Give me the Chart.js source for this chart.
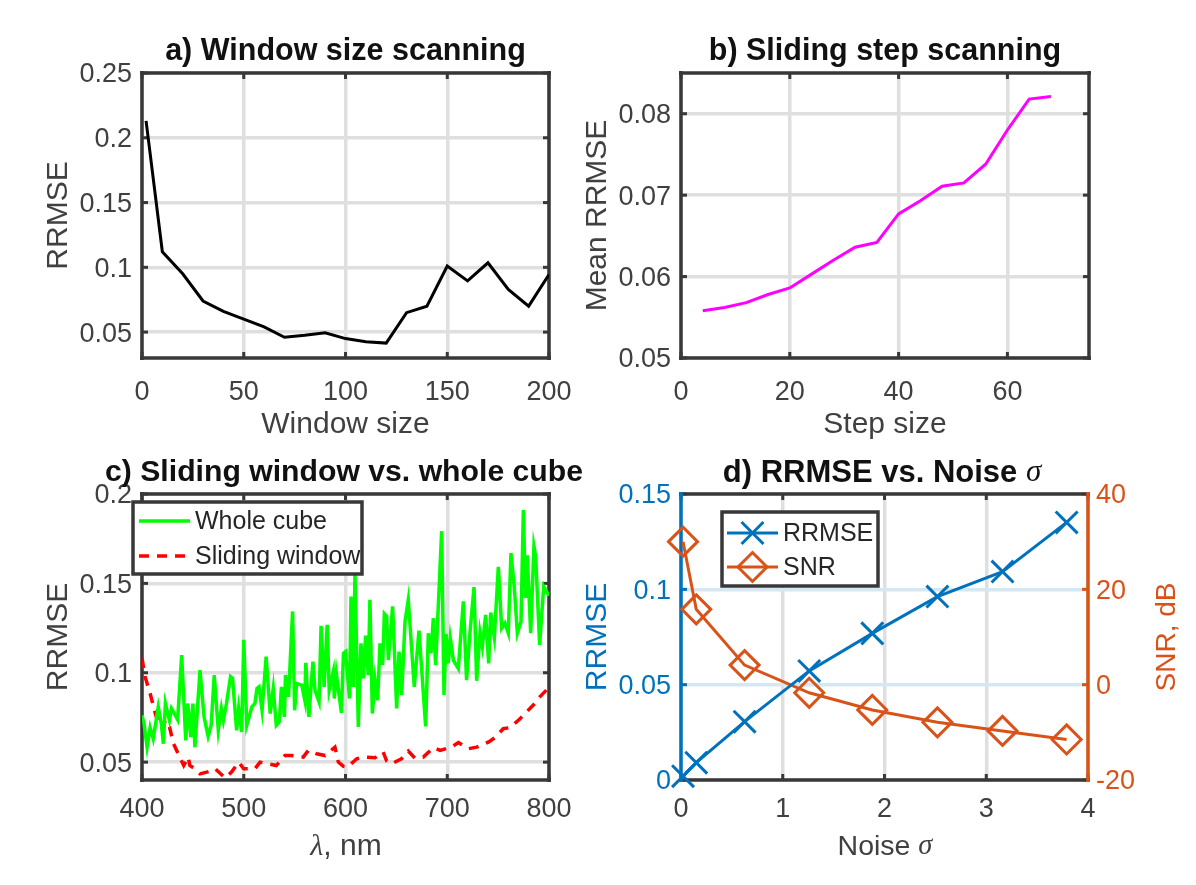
<!DOCTYPE html>
<html>
<head>
<meta charset="utf-8">
<title>RRMSE scans</title>
<script src="https://cdn.jsdelivr.net/npm/chart.js@4/dist/chart.umd.js"></script>
<style>
  html, body { margin: 0; padding: 0; background: #fff; }
  #wrap { position: relative; width: 1196px; height: 885px; overflow: hidden; }
  canvas { position: absolute; }
</style>
</head>
<body>
<div id="wrap">
  <canvas id="panelA" width="590" height="445" style="left:0;top:0"></canvas>
  <canvas id="panelB" width="636" height="445" style="left:560px;top:0"></canvas>
  <canvas id="panelC" width="590" height="440" style="left:0;top:445px"></canvas>
  <canvas id="panelD" width="636" height="440" style="left:560px;top:445px"></canvas>
</div>
<script>
// a) window size scan
var windowSizes = [2, 10, 20, 30, 40, 50, 60, 70, 80, 90, 100, 110, 120, 130, 140, 150, 160, 170, 180, 190, 200];
var windowRrmse = [0.213, 0.112, 0.095, 0.074, 0.066, 0.060, 0.054, 0.046, 0.0475, 0.0495, 0.045, 0.0425, 0.0415, 0.065, 0.070, 0.101, 0.0895, 0.1035, 0.083, 0.070, 0.0945];
var windowXTicks = [0, 50, 100, 150, 200];
var windowYTicks = [0.05, 0.1, 0.15, 0.2, 0.25];

// b) sliding step scan
var stepSizes = [4, 8, 12, 16, 20, 24, 28, 32, 36, 40, 44, 48, 52, 56, 60, 64, 68];
var stepRrmse = [0.0558, 0.0562, 0.0568, 0.0578, 0.0586, 0.0603, 0.0620, 0.0636, 0.0642, 0.0677, 0.0693, 0.0711, 0.0715, 0.0738, 0.0780, 0.0818, 0.0821];
var stepXTicks = [0, 20, 40, 60];
var stepYTicks = [0.05, 0.06, 0.07, 0.08];

// c) whole cube against sliding window
var wholeNm = [400, 402, 405, 408, 411, 416, 419, 421, 423, 427, 429, 435, 439, 443, 445, 448, 450, 452, 457, 461, 465, 468, 471, 475, 478, 480, 483, 487, 489, 493, 495, 498, 500, 503, 508, 511, 513, 515, 518, 522, 526, 529, 532, 535, 537, 540, 541, 544, 548, 550, 552, 557, 560, 561, 564, 568, 570, 574, 576, 579, 582, 584, 588, 589, 591, 596, 598, 600, 604, 605.4, 607.7, 609.3, 612.6, 615.2, 617.5, 619.8, 622.4, 624, 626.4, 629, 631.6, 633.9, 636.5, 638.2, 640.5, 642.1, 646.3, 650.3, 652.6, 655.2, 658.5, 661.7, 667.6, 672.2, 678.8, 681.4, 684, 686.3, 688.6, 694.5, 696.8, 698.8, 701, 703, 706, 710.9, 715.8, 719, 722.4, 726.3, 728.9, 732.2, 734.5, 737.7, 740.7, 742.7, 746.3, 750.2, 753.5, 756.7, 760, 762.6, 765.9, 768.9, 772.5, 774.8, 777, 778.7, 782, 785.2, 786.9, 790.8, 794.8, 800];
var wholeRrmse = [0.0762, 0.0715, 0.0584, 0.0693, 0.0631, 0.0809, 0.0715, 0.0603, 0.0828, 0.0734, 0.0800, 0.0738, 0.1099, 0.0622, 0.0828, 0.0640, 0.0828, 0.0584, 0.1015, 0.0753, 0.0644, 0.0706, 0.0987, 0.0678, 0.0800, 0.0734, 0.0828, 0.0978, 0.0968, 0.0678, 0.0800, 0.0669, 0.1184, 0.0706, 0.0809, 0.0828, 0.0912, 0.0921, 0.0790, 0.1090, 0.0772, 0.0912, 0.0706, 0.0725, 0.0921, 0.0753, 0.0987, 0.0865, 0.1343, 0.0790, 0.0940, 0.0931, 0.0846, 0.1056, 0.0753, 0.1062, 0.0903, 0.0837, 0.1262, 0.0921, 0.1268, 0.0903, 0.1006, 0.0856, 0.0996, 0.0775, 0.1109, 0.1118, 0.0856, 0.1427, 0.0921, 0.1558, 0.0697, 0.1165, 0.0968, 0.1208, 0.0987, 0.1408, 0.0772, 0.0959, 0.0846, 0.1165, 0.1043, 0.1330, 0.1315, 0.1071, 0.1371, 0.0800, 0.1118, 0.0875, 0.1287, 0.1408, 0.0921, 0.1236, 0.0700, 0.1221, 0.1109, 0.1305, 0.1043, 0.1792, 0.0875, 0.1217, 0.1052, 0.1193, 0.1071, 0.1024, 0.1399, 0.0959, 0.1230, 0.1479, 0.0955, 0.1225, 0.1146, 0.1324, 0.1052, 0.1337, 0.1197, 0.1592, 0.1249, 0.1277, 0.1221, 0.1670, 0.1479, 0.1221, 0.1287, 0.1910, 0.1418, 0.1657, 0.1221, 0.1708, 0.1652, 0.1155, 0.1483, 0.1431];
var slidingNm = [400, 403, 408, 414, 416, 420, 423, 427, 431, 437, 441, 445.5, 447, 452, 457, 467, 472, 481.5, 488, 495, 500, 511, 516, 524, 532, 540.5, 547, 558.5, 563.5, 571.6, 580, 589.6, 593, 598, 602, 611, 617.5, 629, 637, 640.5, 645.4, 655, 661.7, 668.3, 676.5, 686.3, 693, 704, 711, 720.7, 729, 740.4, 747, 755, 761.7, 771.5, 778, 786, 791, 800];
var slidingRrmse = [0.1081, 0.0978, 0.0884, 0.0753, 0.0734, 0.0687, 0.0734, 0.0697, 0.0603, 0.0528, 0.0481, 0.0528, 0.0481, 0.0463, 0.0434, 0.0449, 0.0463, 0.0412, 0.0444, 0.0500, 0.0463, 0.0463, 0.0500, 0.0491, 0.0481, 0.0537, 0.0537, 0.0528, 0.0566, 0.0547, 0.0537, 0.0584, 0.0500, 0.0476, 0.0472, 0.0519, 0.0528, 0.0524, 0.0556, 0.0506, 0.0491, 0.0519, 0.0562, 0.0522, 0.0528, 0.0581, 0.0566, 0.0584, 0.0609, 0.0575, 0.0584, 0.0612, 0.0637, 0.0687, 0.0693, 0.0743, 0.0781, 0.0828, 0.0865, 0.0918];
var spectrumXTicks = [400, 500, 600, 700, 800];
var spectrumYTicks = [0.05, 0.1, 0.15, 0.2];

// d) noise scan
var noiseSigma = [0.02, 0.15, 0.625, 1.26, 1.88, 2.52, 3.16, 3.79];
var noiseRrmse = [0.002, 0.0091, 0.0306, 0.0572, 0.0769, 0.0962, 0.1093, 0.1351];
var noiseSnr = [30, 15.8, 4.1, -1.7, -5.3, -7.9, -9.7, -11.5];
var noiseXTicks = [0, 1, 2, 3, 4];
var noiseYTicks = [0, 0.05, 0.1, 0.15];
var snrTicks = [-20, 0, 20, 40];

var SANS = '"Liberation Sans", Arial, sans-serif';
var SERIF = '"Liberation Serif", "Times New Roman", serif';
var TICK_COLOR = '#404040';
var FRAME_COLOR = '#383838';
var GRID_COLOR = '#dfdfdf';
var BLUE = '#0072BD';
var ORANGE = '#D95319';
var TICK_SIZE = 27;
var LABEL_SIZE = 30;
var TITLE_SIZE = 30.5;

function toPoints(xs, ys) {
    return xs.map(function (x, i) { return { x: x, y: ys[i] }; });
}

// draws the axes box and the inward tick marks, MATLAB style
var framePlugin = {
    id: 'frame',
    beforeDatasetsDraw: function (chart, args, opts) {
        var c = chart.ctx, a = chart.chartArea;
        var left = opts.left || FRAME_COLOR, right = opts.right || FRAME_COLOR;
        function seg(x1, y1, x2, y2, color, w) {
            c.strokeStyle = color;
            c.lineWidth = w;
            c.beginPath();
            c.moveTo(x1, y1);
            c.lineTo(x2, y2);
            c.stroke();
        }
        c.save();
        chart.scales.x.ticks.forEach(function (t) {
            var px = chart.scales.x.getPixelForValue(t.value);
            seg(px, a.bottom, px, a.bottom - 6, FRAME_COLOR, 3);
            seg(px, a.top, px, a.top + 6, FRAME_COLOR, 3);
        });
        chart.scales.y.ticks.forEach(function (t) {
            var py = chart.scales.y.getPixelForValue(t.value);
            seg(a.left, py, a.left + 6, py, left, 3);
            if (!chart.scales.y1) seg(a.right, py, a.right - 6, py, right, 3);
        });
        if (chart.scales.y1) {
            chart.scales.y1.ticks.forEach(function (t) {
                var py = chart.scales.y1.getPixelForValue(t.value);
                seg(a.right, py, a.right - 6, py, right, 3);
            });
        }
        seg(a.left - 2, a.top, a.right + 2, a.top, FRAME_COLOR, 3.5);
        seg(a.left - 2, a.bottom, a.right + 2, a.bottom, FRAME_COLOR, 3.5);
        seg(a.left, a.top - 2, a.left, a.bottom + 2, left, 3.5);
        seg(a.right, a.top - 2, a.right, a.bottom + 2, right, 3.5);
        c.restore();
    }
};

// boxed legend sitting at a fixed place, as in the figure
var boxLegendPlugin = {
    id: 'boxLegend',
    afterDatasetsDraw: function (chart, args, opts) {
        if (!opts.box) return;
        var c = chart.ctx, b = opts.box;
        c.save();
        c.fillStyle = '#fff';
        c.fillRect(b.x, b.y, b.w, b.h);
        c.strokeStyle = FRAME_COLOR;
        c.lineWidth = 3.5;
        c.strokeRect(b.x, b.y, b.w, b.h);
        chart.data.datasets.forEach(function (ds, i) {
            var y = opts.rows[i];
            c.strokeStyle = ds.borderColor;
            c.lineWidth = ds.borderWidth;
            c.setLineDash(ds.borderDash || []);
            c.beginPath();
            c.moveTo(opts.lineX[0], y);
            c.lineTo(opts.lineX[1], y);
            c.stroke();
            c.setLineDash([]);
            if (ds.pointStyle) {
                c.fillStyle = 'rgba(0,0,0,0)';
                c.lineWidth = ds.pointBorderWidth;
                Chart.helpers.drawPoint(c, {
                    pointStyle: ds.pointStyle,
                    rotation: 0,
                    radius: ds.pointRadius,
                    borderWidth: ds.pointBorderWidth
                }, (opts.lineX[0] + opts.lineX[1]) / 2, y);
            }
            c.fillStyle = '#262626';
            c.font = opts.font + ' ' + SANS;
            c.textBaseline = 'middle';
            c.textAlign = 'left';
            c.fillText(ds.label, opts.textX, y + 1);
        });
        c.restore();
    }
};

// text with a Greek letter in another face, or rotated the other way
var richTextPlugin = {
    id: 'richText',
    afterDraw: function (chart, args, opts) {
        if (!opts.items) return;
        var c = chart.ctx;
        opts.items.forEach(function (item) {
            var total = 0;
            item.runs.forEach(function (r) {
                c.font = r[1];
                total += c.measureText(r[0]).width;
            });
            c.save();
            c.translate(item.x, item.y);
            if (item.rot) c.rotate(item.rot);
            c.textBaseline = 'middle';
            c.textAlign = 'left';
            var x = -total / 2;
            item.runs.forEach(function (r) {
                c.font = r[1];
                c.fillStyle = item.color;
                c.fillText(r[0], x, 0);
                x += c.measureText(r[0]).width;
            });
            c.restore();
        });
    }
};

Chart.register(framePlugin, boxLegendPlugin, richTextPlugin);

function tickOptions(color, padding, yOffset) {
    return {
        color: color,
        font: { family: SANS, size: TICK_SIZE },
        autoSkip: false,
        maxRotation: 0,
        padding: padding,
        labelOffset: yOffset,
        callback: function (v) { return String(v); }
    };
}

function axis(position, min, max, tickValues, size, extra) {
    var o = {
        type: 'linear',
        position: position,
        min: min,
        max: max,
        border: { display: false },
        grid: { color: GRID_COLOR, lineWidth: 3.5, drawTicks: false },
        ticks: position === 'bottom' ? tickOptions(TICK_COLOR, 13, 0) : tickOptions(TICK_COLOR, 10, 2),
        afterBuildTicks: function (scale) {
            scale.ticks = tickValues.map(function (v) { return { value: v }; });
        },
        afterFit: function (scale) {
            if (position === 'bottom') scale.height = size; else scale.width = size;
        }
    };
    return Object.assign(o, extra || {});
}

function axisTitle(text, pad, color) {
    return {
        display: true,
        text: text,
        color: color || TICK_COLOR,
        font: { family: SANS, size: LABEL_SIZE },
        padding: { top: pad, bottom: pad }
    };
}

function chartTitle(text, top, bottom) {
    return {
        display: true,
        text: text,
        color: '#111',
        fullSize: false,
        font: { family: SANS, size: TITLE_SIZE, weight: 'bold' },
        padding: { top: top, bottom: bottom }
    };
}

function baseOptions(scales, plugins, padding) {
    return {
        responsive: false,
        animation: false,
        layout: { padding: padding },
        scales: scales,
        elements: { point: { radius: 0 } },
        plugins: Object.assign({ legend: { display: false }, tooltip: { enabled: false } }, plugins)
    };
}

new Chart(document.getElementById('panelA').getContext('2d'), {
    type: 'line',
    data: { datasets: [{ label: 'RRMSE', data: toPoints(windowSizes, windowRrmse), borderColor: '#000', borderWidth: 3 }] },
    options: baseOptions({
        x: axis('bottom', 0, 200, windowXTicks, 87, { ticks: tickOptions(TICK_COLOR, 18, 0), title: axisTitle('Window size', 2) }),
        y: axis('left', 0.03, 0.25, windowYTicks, 142, { title: axisTitle('RRMSE', 41) })
    }, { title: chartTitle('a) Window size scanning', 33, 3.4) }, { right: 41 })
});

new Chart(document.getElementById('panelB').getContext('2d'), {
    type: 'line',
    data: { datasets: [{ label: 'Mean RRMSE', data: toPoints(stepSizes, stepRrmse), borderColor: '#FF00FF', borderWidth: 3 }] },
    options: baseOptions({
        x: axis('bottom', 0, 75, stepXTicks, 87, { ticks: tickOptions(TICK_COLOR, 18, 0), title: axisTitle('Step size', 2) }),
        y: axis('left', 0.05, 0.085, stepYTicks, 121, { title: axisTitle('Mean RRMSE', 20) })
    }, { title: chartTitle('b) Sliding step scanning', 33, 3.4) }, { right: 107 })
});

new Chart(document.getElementById('panelC').getContext('2d'), {
    type: 'line',
    data: {
        datasets: [
            { label: 'Whole cube', data: toPoints(wholeNm, wholeRrmse), borderColor: '#00FF00', borderWidth: 3.5 },
            { label: 'Sliding window', data: toPoints(slidingNm, slidingRrmse), borderColor: '#FF0000', borderWidth: 3.5, borderDash: [10, 8] }
        ]
    },
    options: baseOptions({
        x: axis('bottom', 400, 800, spectrumXTicks, 105),
        y: axis('left', 0.04, 0.2, spectrumYTicks, 142, { title: axisTitle('RRMSE', 41) })
    }, {
        boxLegend: {
            box: { x: 133, y: 57, w: 229, h: 72 },
            rows: [76, 111],
            lineX: [139, 190],
            textX: 195,
            font: '25px'
        },
        richText: {
            items: [
                {
                    x: 344, y: 28, color: '#111',
                    runs: [['c) Sliding window vs. whole cube', 'bold 30.2px ' + SANS]]
                },
                {
                    x: 346, y: 402, color: TICK_COLOR,
                    runs: [['λ', 'italic 30px ' + SERIF], [', nm', '30px ' + SANS]]
                }
            ]
        }
    }, { top: 49, right: 41 })
});

new Chart(document.getElementById('panelD').getContext('2d'), {
    type: 'line',
    data: {
        datasets: [
            {
                label: 'RRMSE', data: toPoints(noiseSigma, noiseRrmse), yAxisID: 'y', clip: false,
                borderColor: BLUE, borderWidth: 3, pointStyle: 'crossRot', pointRadius: 15.5,
                pointBorderColor: BLUE, pointBackgroundColor: 'transparent', pointBorderWidth: 3
            },
            {
                label: 'SNR', data: toPoints(noiseSigma, noiseSnr), yAxisID: 'y1', clip: false,
                borderColor: ORANGE, borderWidth: 3, pointStyle: 'rectRot', pointRadius: 14.5,
                pointBorderColor: ORANGE, pointBackgroundColor: 'transparent', pointBorderWidth: 3
            }
        ]
    },
    options: baseOptions({
        x: axis('bottom', 0, 4, noiseXTicks, 105),
        y: axis('left', 0, 0.15, noiseYTicks, 121, {
            grid: { color: '#d5e7f2', lineWidth: 3.5, drawTicks: false },
            title: axisTitle('RRMSE', 20, BLUE),
            ticks: tickOptions(BLUE, 10, 2)
        }),
        y1: axis('right', -20, 40, snrTicks, 108, {
            grid: { display: false, drawTicks: false },
            ticks: tickOptions(ORANGE, 8, 2)
        })
    }, {
        frame: { left: BLUE, right: ORANGE },
        boxLegend: {
            box: { x: 162, y: 67, w: 156, h: 74 },
            rows: [88, 122],
            lineX: [167, 218],
            textX: 223,
            font: '25px'
        },
        richText: {
            items: [
                {
                    x: 322, y: 28, color: '#111',
                    runs: [['d) RRMSE vs. Noise ', 'bold 31px ' + SANS], ['σ', 'italic 31px ' + SERIF]]
                },
                {
                    x: 325, y: 402, color: TICK_COLOR,
                    runs: [['Noise ', '28.5px ' + SANS], ['σ', 'italic 28.5px ' + SERIF]]
                },
                {
                    x: 607, y: 192, rot: -Math.PI / 2, color: ORANGE,
                    runs: [['SNR, dB', '28px ' + SANS]]
                }
            ]
        }
    }, { top: 49 })
});
</script>
</body>
</html>
